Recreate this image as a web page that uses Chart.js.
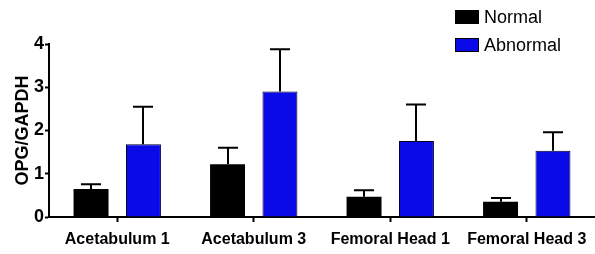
<!DOCTYPE html>
<html>
<head>
<meta charset="utf-8">
<script src="https://cdn.jsdelivr.net/npm/chart.js@4/dist/chart.umd.min.js"></script>
<style>
  body { margin: 0; background: #fff; }
  #wrap { width: 595px; height: 254px; }
</style>
</head>
<body>
<div id="wrap"><canvas id="chart" width="595" height="254"></canvas></div>
<script>
const categories = ["Acetabulum 1", "Acetabulum 3", "Femoral Head 1", "Femoral Head 3"];
const normalValues = [0.65, 1.22, 0.47, 0.35];
const normalErrors = [0.11, 0.38, 0.15, 0.09];
const abnormalValues = [1.68, 2.90, 1.76, 1.53];
const abnormalErrors = [0.87, 0.98, 0.84, 0.43];
const yTicks = [0, 1, 2, 3, 4];

const FONT = "Arial, 'Liberation Sans', sans-serif";

// upward-only error bars with a cap, like the original figure
const errorBars = {
  id: "errorBars",
  afterDatasetsDraw(chart) {
    const ctx = chart.ctx;
    const y = chart.scales.y;
    ctx.save();
    ctx.strokeStyle = "#000";
    ctx.lineWidth = 2;
    chart.data.datasets.forEach((ds, i) => {
      const meta = chart.getDatasetMeta(i);
      meta.data.forEach((bar, j) => {
        const top = y.getPixelForValue(ds.data[j] + ds.errors[j]);
        const x = Math.round(bar.x);
        ctx.beginPath();
        ctx.moveTo(x, bar.y);
        ctx.lineTo(x, top);
        ctx.moveTo(x - 10, top);
        ctx.lineTo(x + 10, top);
        ctx.stroke();
      });
    });
    ctx.restore();
  }
};

// legend stacked in the top right corner
const stackedLegend = {
  id: "stackedLegend",
  afterDraw(chart) {
    const ctx = chart.ctx;
    ctx.save();
    ctx.font = "18px " + FONT;
    ctx.textBaseline = "middle";
    ctx.textAlign = "left";
    chart.data.datasets.forEach((ds, i) => {
      const top = 10 + i * 28;
      ctx.fillStyle = ds.backgroundColor;
      ctx.fillRect(455, top, 24, 14);
      ctx.strokeStyle = "#000";
      ctx.lineWidth = 1;
      ctx.strokeRect(455.5, top + 0.5, 23, 13);
      ctx.fillStyle = "#000";
      ctx.fillText(ds.label, 484, top + 8);
    });
    ctx.restore();
  }
};

new Chart(document.getElementById("chart"), {
  type: "bar",
  data: {
    labels: categories,
    datasets: [
      {
        label: "Normal",
        data: normalValues,
        errors: normalErrors,
        backgroundColor: "#000000",
        borderColor: "#000000",
        borderWidth: 0,
        categoryPercentage: 0.768,
        barPercentage: 0.667
      },
      {
        label: "Abnormal",
        data: abnormalValues,
        errors: abnormalErrors,
        backgroundColor: "#0a0ae8",
        borderColor: "#000022",
        borderWidth: 1,
        categoryPercentage: 0.768,
        barPercentage: 0.667
      }
    ]
  },
  options: {
    responsive: false,
    animation: false,
    layout: { padding: { top: 44, right: 0, left: 0, bottom: 0 } },
    plugins: { legend: { display: false }, tooltip: { enabled: false } },
    scales: {
      x: {
        offset: true,
        grid: { offset: false, drawOnChartArea: false, tickLength: 5, tickColor: "#000", tickWidth: 2 },
        border: { color: "#000", width: 2 },
        ticks: { color: "#000", font: { family: FONT, size: 16, weight: "bold" }, padding: 8, maxRotation: 0 },
        afterFit(scale) { scale.height = 37; }
      },
      y: {
        min: 0,
        max: 4,
        afterBuildTicks(scale) { scale.ticks = yTicks.map(v => ({ value: v })); },
        grid: { drawOnChartArea: false, tickLength: 4, tickColor: "#000", tickWidth: 2 },
        border: { color: "#000", width: 2 },
        ticks: { color: "#000", font: { family: FONT, size: 18, weight: "bold" }, padding: 1 },
        title: {
          display: true,
          text: "OPG/GAPDH",
          color: "#000",
          font: { family: FONT, size: 18, weight: "bold" },
          padding: { top: 12, bottom: 0 }
        },
        afterFit(scale) { scale.width = 49; }
      }
    }
  },
  plugins: [errorBars, stackedLegend]
});
</script>
</body>
</html>
